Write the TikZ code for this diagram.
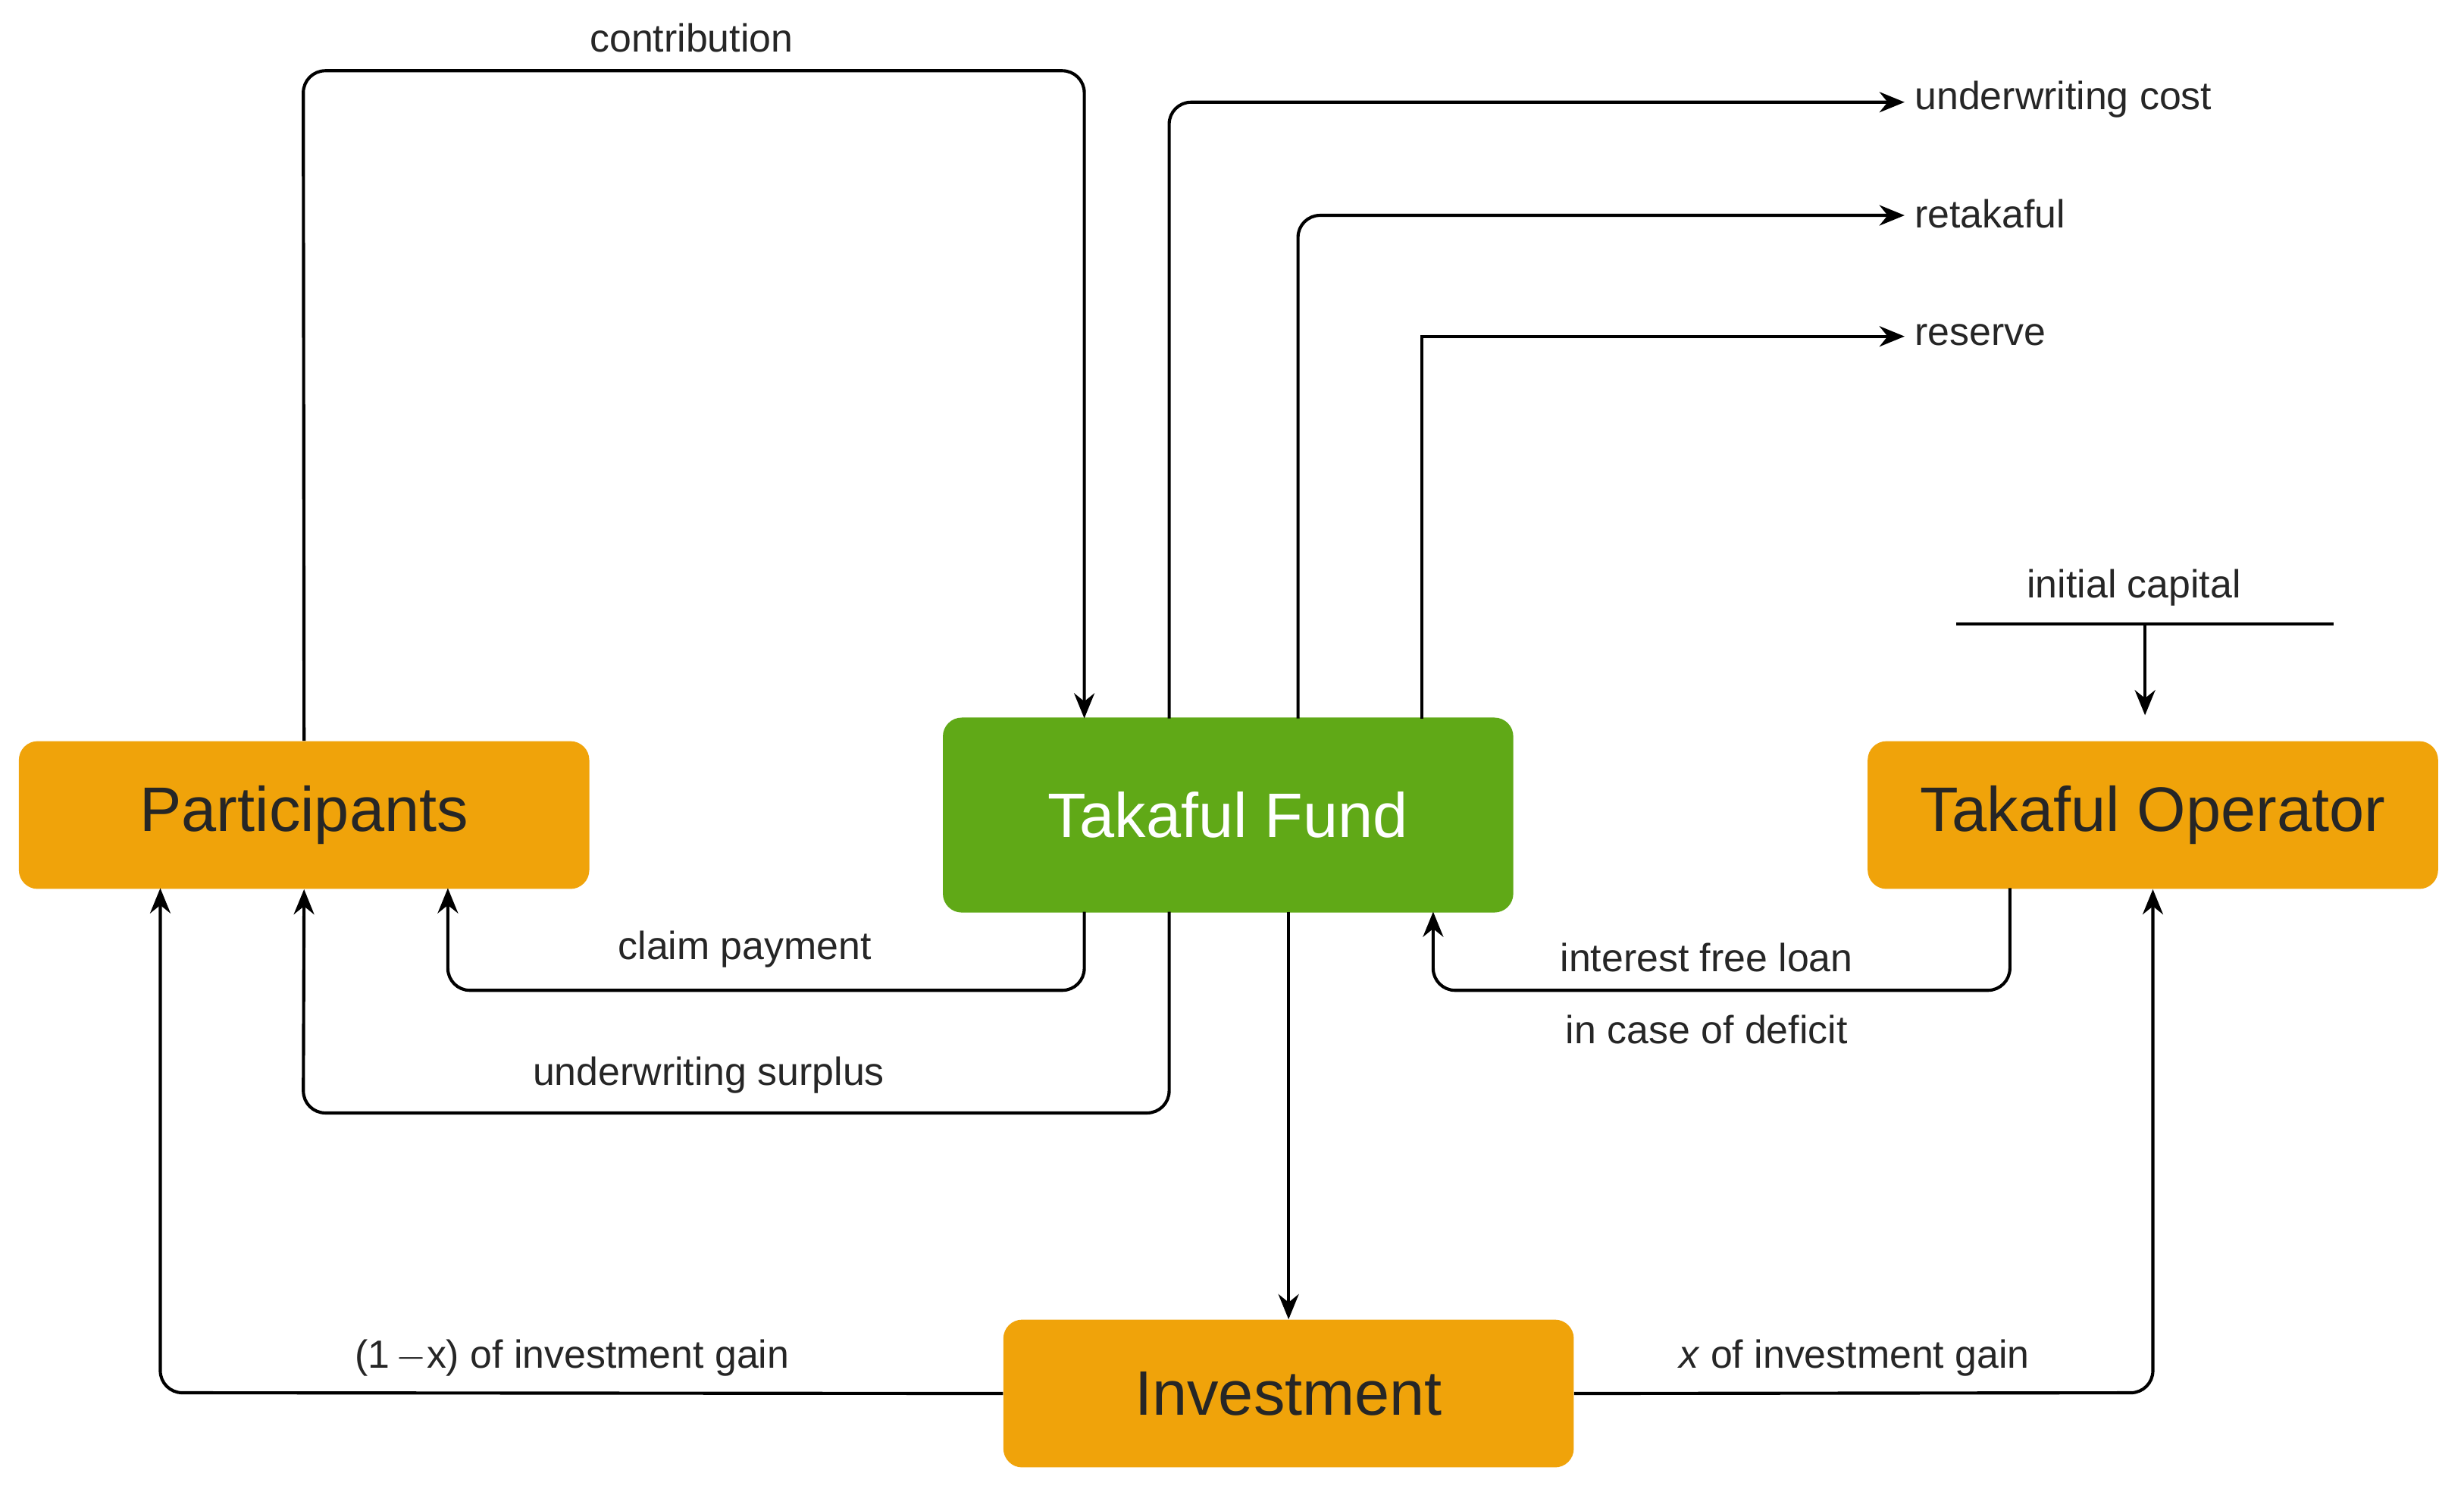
\documentclass[tikz,border=0pt]{standalone}
\usepackage{fontspec}
\setmainfont{Liberation Sans}
\usetikzlibrary{arrows.meta}
\definecolor{org}{HTML}{F0A30A}
\definecolor{grn}{HTML}{60A917}
\begin{document}
\begin{tikzpicture}[x=1pt,y=-1pt,
 box/.style={draw=none,rounded corners=12pt,minimum width=363pt,inner sep=0pt,font=\fontsize{40}{44}\selectfont},
 ob/.style={box,fill=org,text=black!85,minimum height=94pt},
 lab/.style={font=\fontsize{25}{28}\selectfont,text=black!85},
 con/.style={line width=2pt,rounded corners=14pt,-{Stealth[length=16pt,width=13pt]}},
 ln/.style={line width=2pt}]
\useasboundingbox (0,0) rectangle (1568,945);
\fill[white] (0,0) rectangle (1568,945);
\node[ob] (P) at (193.5,518.5) {Participants};
\node[box,fill=grn,text=white,minimum height=124pt] (F) at (781.5,518.5) {Takaful Fund};
\node[ob] (O) at (1370,518.5) {Takaful Operator};
\node[ob] (I) at (820,886.5) {Investment};
\coordinate (uc) at (1212,65);
\coordinate (rt) at (1212,137);
\coordinate (rs) at (1212,214);
\node[lab,anchor=west] (uct) at (1215,63) {underwriting cost};
\node[lab,anchor=west] (rtt) at (1215,136) {retakaful};
\node[lab,anchor=west] (rst) at (1215,213) {reserve};
\draw[con] (P.north) -- (193,45) -- (690,45) -- (690,457);
\node[lab] (ct) at (440,24) {contribution};
\draw[con] (744,457) -- (744,65) -- (uc);
\draw[con] (826,457) -- (826,137) -- (rt);
\draw[con,rounded corners=0pt] (905,457) -- (905,214) -- (rs);
\draw[con] (690,580) -- (690,630) -- (285,630) -- (285,565);
\node[lab] (cp) at (474,604) {claim payment};
\draw[con] (744,580) -- (744,708) -- (193,708) -- (P.south);
\node[lab] (us) at (451,684) {underwriting surplus};
\draw[con] (820,580) -- (I.north);
\draw[con] (1279,565) -- (1279,630) -- (912,630) -- (912,580);
\node[lab] (il) at (1086,609) {interest free loan};
\node[lab] (cd) at (1086,655) {in case of deficit};
\coordinate (c1) at (1245,397); \coordinate (c2) at (1485,397);
\draw[ln] (c1) -- (c2);
\draw[con] (1365,397) -- (1365,455);
\node[lab] (ic) at (1358,374) {initial capital};
\draw[con] (I.west) -- (102,886) -- (102,565);
\node[lab] (g1) at (364,864) {(1\,$-$x) of investment gain};
\draw[con] (I.east) -- (1370,886) -- (O.south);
\node[lab] (g2) at (1180,864) {\textit{x} of investment gain};
\end{tikzpicture}
\end{document}
